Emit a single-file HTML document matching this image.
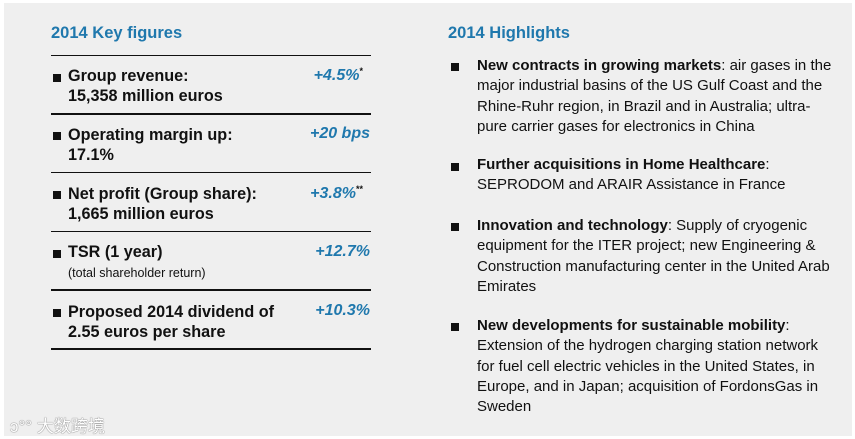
<!DOCTYPE html>
<html><head><meta charset="utf-8"><style>
body{margin:0;width:855px;height:439px;background:#fff;overflow:hidden;font-family:"Liberation Sans",Arial,sans-serif;}
#panel{position:absolute;left:4px;top:3px;width:848px;height:433px;background:#efefef;}
.t{position:absolute;white-space:nowrap;color:#111;}
.h{font-weight:bold;font-size:16.5px;color:#1f78ad;}
.k{font-weight:bold;font-size:16.2px;}
.v{font-weight:bold;font-style:italic;font-size:16px;color:#1f78ad;text-align:right;width:120px;}
.v sup{color:#111;font-size:9px;font-style:normal;vertical-align:6px;}
.r{font-size:15px;}
.ln{position:absolute;left:51px;width:320px;background:#111;}
.sq{position:absolute;width:8px;height:8px;background:#111;}
</style></head><body>
<div id="panel"></div>
<div class="t h" style="left:51px;top:24px">2014 Key figures</div>
<div class="ln" style="top:55px;height:1px"></div>
<div class="ln" style="top:113px;height:2px"></div>
<div class="ln" style="top:172px;height:1px"></div>
<div class="ln" style="top:231px;height:1px"></div>
<div class="ln" style="top:289px;height:2px"></div>
<div class="ln" style="top:348px;height:2px"></div>

<div class="sq" style="left:53px;top:74px"></div>
<div class="t k" style="left:68px;top:66px;line-height:20px">Group revenue:<br>15,358 million euros</div>
<div class="t v" style="left:243px;top:66px">+4.5%<sup>*</sup></div>

<div class="sq" style="left:53px;top:132px"></div>
<div class="t k" style="left:68px;top:125px;line-height:20px">Operating margin up:<br>17.1%</div>
<div class="t v" style="left:250px;top:125px">+20 bps</div>

<div class="sq" style="left:53px;top:191px"></div>
<div class="t k" style="left:68px;top:184px;line-height:20px">Net profit (Group share):<br>1,665 million euros</div>
<div class="t v" style="left:243px;top:184px">+3.8%<sup>**</sup></div>

<div class="sq" style="left:53px;top:250px"></div>
<div class="t k" style="left:68px;top:243px">TSR (1 year)</div>
<div class="t" style="left:68px;top:266px;font-size:12.5px">(total shareholder return)</div>
<div class="t v" style="left:250px;top:243px">+12.7%</div>

<div class="sq" style="left:53px;top:309px"></div>
<div class="t k" style="left:68px;top:302px;line-height:20px">Proposed 2014 dividend of<br>2.55 euros per share</div>
<div class="t v" style="left:250px;top:302px">+10.3%</div>

<div class="t h" style="left:448px;top:24px">2014 Highlights</div>

<div class="sq" style="left:451px;top:63px"></div>
<div class="t r" style="left:477px;top:56px;line-height:20.3px"><b>New contracts in growing markets</b>: air gases in the<br>major industrial basins of the US Gulf Coast and the<br>Rhine-Ruhr region, in Brazil and in Australia; ultra-<br>pure carrier gases for electronics in China</div>

<div class="sq" style="left:451px;top:163px"></div>
<div class="t r" style="left:477px;top:155px;line-height:20.3px"><b>Further acquisitions in Home Healthcare</b>:<br>SEPRODOM and ARAIR Assistance in France</div>

<div class="sq" style="left:451px;top:223px"></div>
<div class="t r" style="left:477px;top:216px;line-height:20.3px"><b>Innovation and technology</b>: Supply of cryogenic<br>equipment for the ITER project; new Engineering &amp;<br>Construction manufacturing center in the United Arab<br>Emirates</div>

<div class="sq" style="left:451px;top:323px"></div>
<div class="t r" style="left:477px;top:316px;line-height:20.3px"><b>New developments for sustainable mobility</b>:<br>Extension of the hydrogen charging station network<br>for fuel cell electric vehicles in the United States, in<br>Europe, and in Japan; acquisition of FordonsGas in<br>Sweden</div>

<div class="t" style="left:10px;top:412px;font-size:17px;color:#fff;font-family:'Liberation Sans','Noto Sans CJK SC',sans-serif;text-shadow:0 0 1px #777,0 0 1px #777">ↄ°° 大数跨境</div>
</body></html>
